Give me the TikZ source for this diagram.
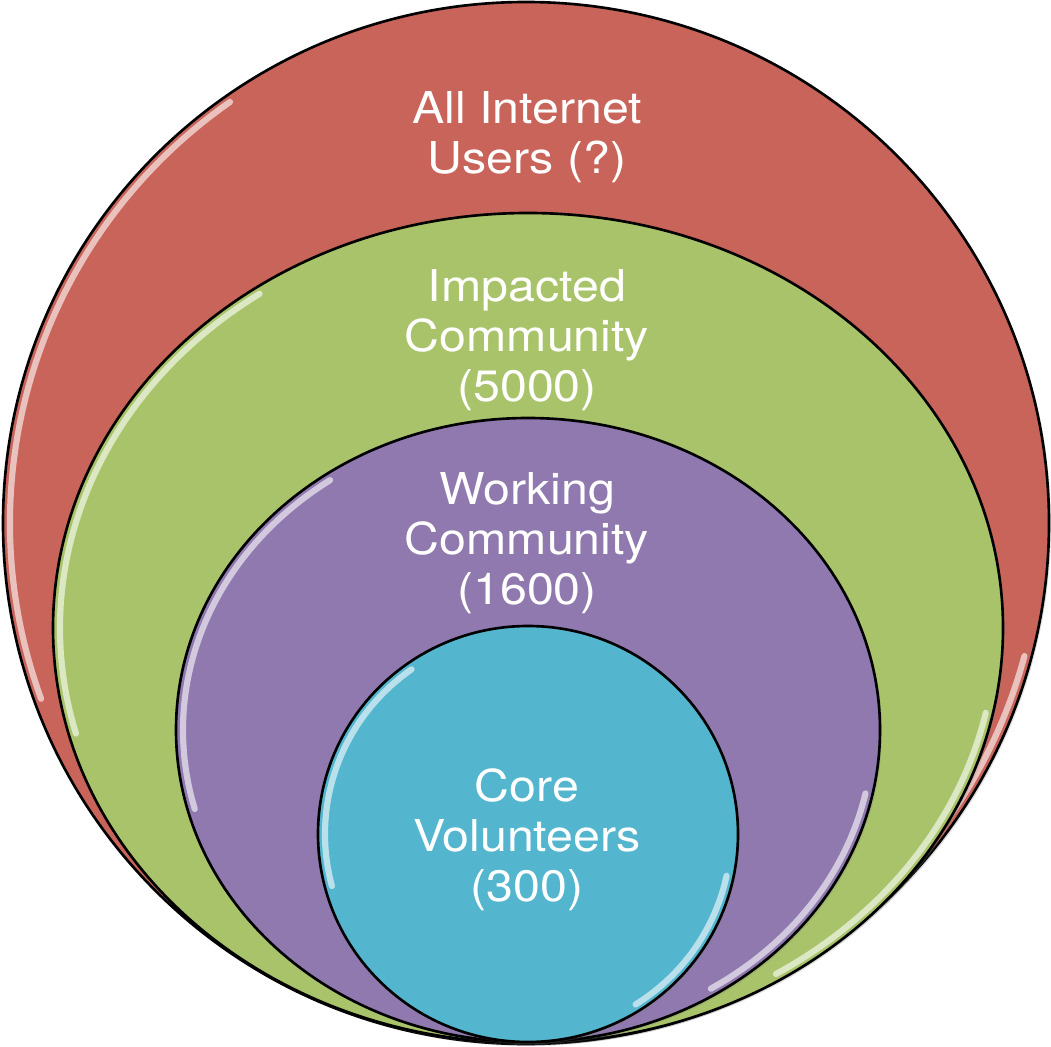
\documentclass[tikz,border=0pt]{standalone}
\usepackage{fontspec}
\setmainfont{TeX Gyre Heros}[FakeStretch=1.1]
\usetikzlibrary{shadows}
\definecolor{ringred}{HTML}{C9645B}
\definecolor{ringgreen}{HTML}{A9C36A}
\definecolor{ringpurple}{HTML}{9079AE}
\definecolor{ringcyan}{HTML}{53B6CE}
\tikzset{
  ring/.style={draw=black,line width=1.5,drop shadow={opacity=0.25,shadow xshift=2,shadow yshift=-2}},
  gloss/.style={draw=white,opacity=0.6,line width=3.5,line cap=round},
  ringlabel/.style={text=white,align=center,inner sep=0pt,
    font=\fontsize{25}{28.5}\selectfont}
}
\begin{document}
\begin{tikzpicture}[x=0.02cm,y=0.02cm]
      \useasboundingbox (0,0) rectangle (1051,1046);
      % outer to inner, all touching at the bottom
      \filldraw[ring,fill=ringred] (526,523) ellipse [x radius=523,y radius=521];
      \draw[gloss] (526,523) ++(125:516 and 514) arc [start angle=125,end angle=200,x radius=516,y radius=514];
      \draw[gloss] (526,523) ++(-15:516 and 514) arc [start angle=-15,end angle=-58,x radius=516,y radius=514];
      \filldraw[ring,fill=ringgreen] (528,418) ellipse [x radius=475,y radius=415];
      \draw[gloss] (528,418) ++(125:468 and 408) arc [start angle=125,end angle=195,x radius=468,y radius=408];
      \draw[gloss] (528,418) ++(-12:468 and 408) arc [start angle=-12,end angle=-58,x radius=468,y radius=408];
      \filldraw[ring,fill=ringpurple] (528,316) ellipse [x radius=352,y radius=312];
      \draw[gloss] (528,316) ++(125:345 and 305) arc [start angle=125,end angle=195,x radius=345,y radius=305];
      \draw[gloss] (528,316) ++(-12:345 and 305) arc [start angle=-12,end angle=-58,x radius=345,y radius=305];
      \filldraw[ring,fill=ringcyan] (528,212) ellipse [x radius=210,y radius=208];
      \draw[gloss] (528,212) ++(125:203 and 201) arc [start angle=125,end angle=195,x radius=203,y radius=201];
      \draw[gloss] (528,212) ++(-12:203 and 201) arc [start angle=-12,end angle=-58,x radius=203,y radius=201];
      \node[ringlabel] (users) at (527,909) {All Internet\\Users (?)};
      \node[ringlabel] (impacted) at (527,706) {Impacted\\Community\\(5000)};
      \node[ringlabel] (working) at (527,503) {Working\\Community\\(1600)};
      \node[ringlabel] (core) at (527,206) {Core\\Volunteers\\(300)};
\end{tikzpicture}
\end{document}
